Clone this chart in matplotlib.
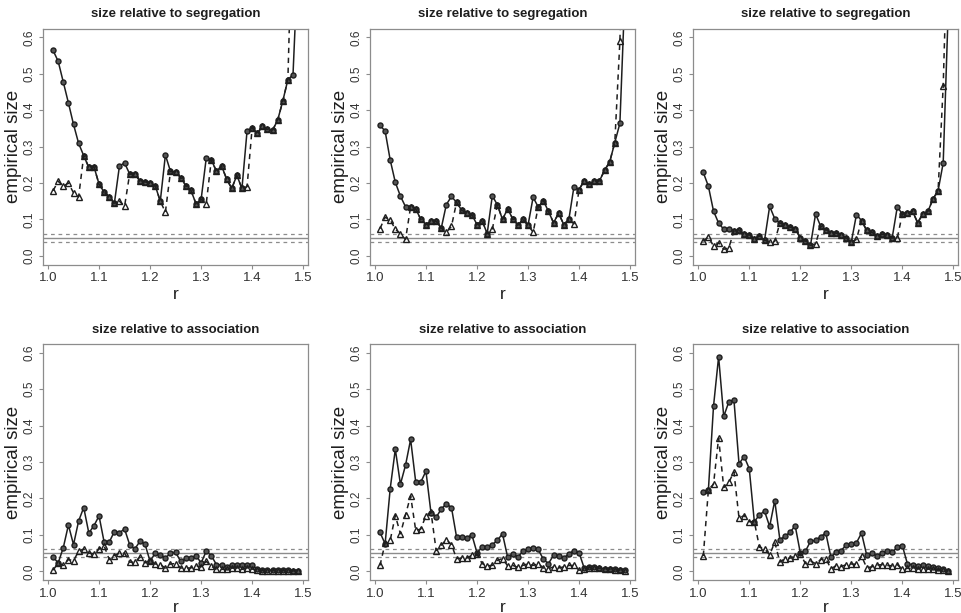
import numpy as np
import matplotlib.pyplot as plt

plt.rcParams['font.family'] = ['Liberation Sans', 'DejaVu Sans']

r = np.round(np.arange(1.01, 1.495, 0.01), 2)

# size relative to segregation (top row)
seg1_circ = [0.564, 0.534, 0.477, 0.42, 0.361, 0.309, 0.275, 0.243, 0.245, 0.197,
             0.175, 0.162, 0.144, 0.247, 0.255, 0.225, 0.225, 0.206, 0.203, 0.2,
             0.193, 0.15, 0.277, 0.232, 0.23, 0.215, 0.193, 0.18, 0.143, 0.155,
             0.268, 0.264, 0.232, 0.247, 0.211, 0.185, 0.221, 0.185, 0.343, 0.352,
             0.336, 0.356, 0.347, 0.345, 0.373, 0.425, 0.484, 0.497, 0.82]
seg1_tri = [0.179, 0.205, 0.191, 0.2, 0.173, 0.162, 0.275, 0.243, 0.245, 0.197,
            0.175, 0.162, 0.144, 0.15, 0.136, 0.225, 0.225, 0.206, 0.203, 0.2,
            0.193, 0.15, 0.12, 0.232, 0.23, 0.215, 0.193, 0.18, 0.143, 0.155,
            0.143, 0.264, 0.232, 0.247, 0.211, 0.185, 0.221, 0.185, 0.19, 0.352,
            0.336, 0.356, 0.347, 0.345, 0.373, 0.425, 0.484, 1.0, 1.2]

seg2_circ = [0.358, 0.343, 0.263, 0.202, 0.164, 0.135, 0.135, 0.129, 0.1, 0.086,
             0.095, 0.095, 0.076, 0.141, 0.163, 0.147, 0.125, 0.118, 0.113, 0.086,
             0.097, 0.061, 0.165, 0.14, 0.1, 0.129, 0.102, 0.084, 0.1, 0.084,
             0.161, 0.134, 0.152, 0.122, 0.091, 0.117, 0.086, 0.1, 0.19, 0.182,
             0.206, 0.197, 0.206, 0.206, 0.235, 0.258, 0.311, 0.364, 0.73]
seg2_tri = [0.075, 0.106, 0.099, 0.073, 0.061, 0.045, 0.135, 0.129, 0.1, 0.086,
            0.095, 0.095, 0.076, 0.065, 0.081, 0.147, 0.125, 0.118, 0.113, 0.086,
            0.097, 0.061, 0.073, 0.14, 0.1, 0.129, 0.102, 0.084, 0.1, 0.084,
            0.065, 0.134, 0.152, 0.122, 0.091, 0.117, 0.086, 0.1, 0.088, 0.182,
            0.206, 0.197, 0.206, 0.206, 0.235, 0.258, 0.311, 0.59, 1.1]

seg3_circ = [0.229, 0.191, 0.123, 0.09, 0.073, 0.075, 0.068, 0.07, 0.059, 0.058,
             0.047, 0.055, 0.043, 0.136, 0.102, 0.09, 0.084, 0.079, 0.075, 0.049,
             0.041, 0.029, 0.115, 0.081, 0.072, 0.064, 0.063, 0.056, 0.049, 0.038,
             0.113, 0.097, 0.07, 0.065, 0.055, 0.059, 0.058, 0.049, 0.134, 0.115,
             0.117, 0.122, 0.091, 0.115, 0.122, 0.156, 0.179, 0.255, 0.68]
seg3_tri = [0.04, 0.052, 0.027, 0.036, 0.018, 0.022, 0.068, 0.07, 0.059, 0.058,
            0.047, 0.055, 0.043, 0.038, 0.04, 0.09, 0.084, 0.079, 0.075, 0.049,
            0.041, 0.029, 0.033, 0.081, 0.072, 0.064, 0.063, 0.056, 0.049, 0.038,
            0.045, 0.097, 0.07, 0.065, 0.055, 0.059, 0.058, 0.049, 0.049, 0.115,
            0.117, 0.122, 0.091, 0.115, 0.122, 0.156, 0.179, 0.467, 0.95]

# size relative to association (bottom row)
asc1_circ = [0.039, 0.023, 0.065, 0.127, 0.073, 0.138, 0.175, 0.105, 0.125, 0.152,
             0.08, 0.08, 0.109, 0.106, 0.116, 0.073, 0.061, 0.082, 0.075, 0.027,
             0.05, 0.045, 0.036, 0.05, 0.052, 0.027, 0.036, 0.036, 0.043, 0.023,
             0.055, 0.043, 0.018, 0.018, 0.012, 0.018, 0.018, 0.016, 0.018, 0.018,
             0.005, 0.004, 0.003, 0.003, 0.003, 0.003, 0.003, 0.002, 0.002]
asc1_tri = [0.003, 0.023, 0.016, 0.032, 0.029, 0.055, 0.061, 0.05, 0.048, 0.061,
            0.07, 0.032, 0.043, 0.05, 0.05, 0.025, 0.025, 0.039, 0.023, 0.029,
            0.02, 0.018, 0.009, 0.02, 0.021, 0.009, 0.009, 0.009, 0.015, 0.012,
            0.027, 0.014, 0.005, 0.005, 0.006, 0.009, 0.009, 0.005, 0.009, 0.006,
            0.003, 0.002, 0.002, 0.002, 0.002, 0.002, 0.001, 0.001, 0.001]

asc2_circ = [0.107, 0.075, 0.227, 0.335, 0.239, 0.291, 0.362, 0.245, 0.245, 0.275,
             0.159, 0.148, 0.171, 0.185, 0.175, 0.094, 0.094, 0.092, 0.1, 0.051,
             0.066, 0.066, 0.073, 0.085, 0.103, 0.039, 0.048, 0.039, 0.055, 0.062,
             0.064, 0.06, 0.033, 0.021, 0.044, 0.042, 0.036, 0.048, 0.057, 0.051,
             0.009, 0.012, 0.012, 0.008, 0.007, 0.006, 0.005, 0.004, 0.003]
asc2_tri = [0.016, 0.077, 0.085, 0.153, 0.103, 0.155, 0.207, 0.112, 0.116, 0.153,
            0.162, 0.057, 0.071, 0.087, 0.073, 0.035, 0.036, 0.036, 0.044, 0.048,
            0.021, 0.015, 0.016, 0.03, 0.035, 0.015, 0.016, 0.011, 0.016, 0.021,
            0.016, 0.021, 0.009, 0.007, 0.012, 0.009, 0.012, 0.016, 0.016, 0.003,
            0.005, 0.01, 0.01, 0.008, 0.007, 0.005, 0.004, 0.003, 0.002]

asc3_circ = [0.219, 0.224, 0.453, 0.589, 0.425, 0.465, 0.471, 0.295, 0.315, 0.282,
             0.136, 0.155, 0.165, 0.123, 0.194, 0.087, 0.096, 0.107, 0.125, 0.051,
             0.055, 0.082, 0.085, 0.095, 0.105, 0.039, 0.052, 0.057, 0.072, 0.074,
             0.078, 0.105, 0.045, 0.05, 0.042, 0.05, 0.055, 0.052, 0.066, 0.07,
             0.02, 0.018, 0.015, 0.016, 0.014, 0.013, 0.01, 0.005, 0.002]
asc3_tri = [0.042, 0.224, 0.239, 0.366, 0.23, 0.244, 0.273, 0.146, 0.153, 0.136,
            0.136, 0.066, 0.062, 0.045, 0.08, 0.025, 0.035, 0.036, 0.042, 0.048,
            0.021, 0.028, 0.021, 0.032, 0.035, 0.007, 0.015, 0.013, 0.018, 0.02,
            0.019, 0.042, 0.01, 0.012, 0.017, 0.018, 0.016, 0.015, 0.018, 0.006,
            0.008, 0.008, 0.007, 0.007, 0.006, 0.005, 0.004, 0.003, 0.001]

nominal = 0.05
band = [0.039, 0.061]

panels = [
    ("size relative to segregation", seg1_circ, seg1_tri),
    ("size relative to segregation", seg2_circ, seg2_tri),
    ("size relative to segregation", seg3_circ, seg3_tri),
    ("size relative to association", asc1_circ, asc1_tri),
    ("size relative to association", asc2_circ, asc2_tri),
    ("size relative to association", asc3_circ, asc3_tri),
]

W, H = 962, 613
fig = plt.figure(figsize=(W / 100, H / 100), dpi=100)
lefts = [43.3, 370.2, 693.5]
tops = [28.6, 344.0]
aw, ah = 264.6, 236.0
grey = "#8c8c8c"
ink = "#1e1e1e"

for k, (title, circ, tri) in enumerate(panels):
    row, col = divmod(k, 3)
    ax = fig.add_axes([lefts[col] / W, 1 - (tops[row] + ah) / H, aw / W, ah / H])
    ax.axhline(nominal, color=grey, lw=1.0)
    for b in band:
        ax.axhline(b, color=grey, lw=0.9, ls=(0, (3, 3)))
    ax.plot(r, circ, color=ink, lw=1.1, marker="o", ms=3.6,
            mfc="#555555", mec=ink, mew=1.0)
    ax.plot(r, tri, color=ink, lw=1.1, ls=(0, (3.5, 3)), marker="^",
            ms=3.8, mfc="none", mec=ink, mew=1.0)
    ax.set_xlim(0.9908, 1.5092)
    ax.set_ylim(-0.024, 0.624)
    ax.set_xticks([1.0, 1.1, 1.2, 1.3, 1.4, 1.5])
    ax.set_yticks([0.0, 0.1, 0.2, 0.3, 0.4, 0.5, 0.6])
    ax.set_xticklabels(["1.0", "1.1", "1.2", "1.3", "1.4", "1.5"], fontsize=9.5,
                       color="#333333")
    ax.set_yticklabels(["0.0", "0.1", "0.2", "0.3", "0.4", "0.5", "0.6"],
                       fontsize=8.5, rotation=90, va="center", color="#333333")
    ax.tick_params(length=3, width=0.8, color=grey, pad=2.5)
    for s in ax.spines.values():
        s.set_color(grey)
        s.set_linewidth(0.9)
    ax.set_title(title, fontsize=9.5, fontweight="bold", pad=8, color=ink)
    ax.set_ylabel("empirical size", fontsize=13.5, labelpad=1, color=ink)
    ax.set_xlabel("r", fontsize=12.5, labelpad=0 if row else 2, color=ink)

fig.savefig("out.png", dpi=100)
